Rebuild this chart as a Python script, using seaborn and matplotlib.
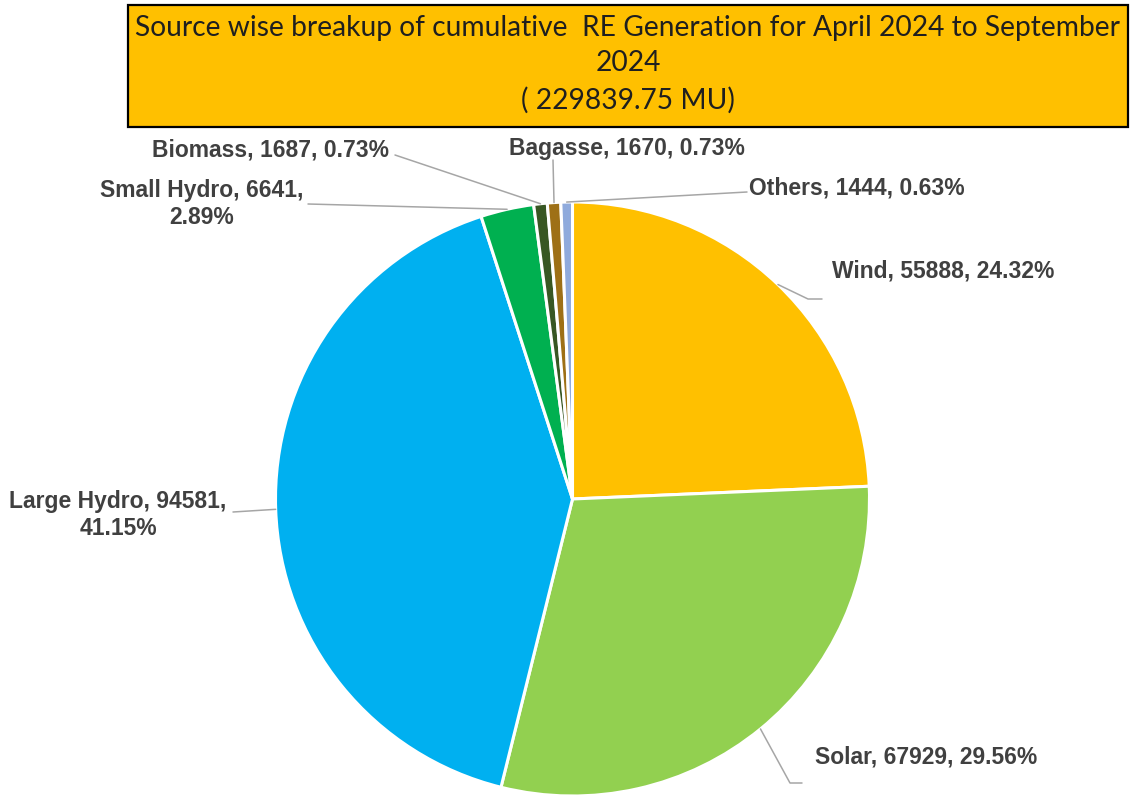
import numpy as np
import matplotlib
matplotlib.use('Agg')
import matplotlib.pyplot as plt
import seaborn as sns
from matplotlib.lines import Line2D
from matplotlib.patches import Rectangle

# Data
sources = ['Wind', 'Solar', 'Large Hydro', 'Small Hydro', 'Biomass', 'Bagasse', 'Others']
generation = [55888, 67929, 94581, 6641, 1687, 1670, 1444]
shares = ['24.32%', '29.56%', '41.15%', '2.89%', '0.73%', '0.73%', '0.63%']
total_mu = '229839.75'
title_lines = ['Source wise breakup of cumulative  RE Generation for April 2024 to September',
               '2024',
               f'( {total_mu} MU)']
colors = ['#FFC000', '#92D050', '#00B0F0', '#00B050', '#385723', '#9E7016', '#8FAADC']

W, H = 1131, 801

# label layout in image pixels (x, y from top): text centre, leader points
label_layout = {
    'Wind':        dict(text=(943, 271), wrap=False, leader=[(808, 299), (822, 299)]),
    'Solar':       dict(text=(926, 757), wrap=False, leader=[(790, 783), (802, 783)]),
    'Large Hydro': dict(text=(118, 515), wrap=True, leader=[(233, 512)]),
    'Small Hydro': dict(text=(202, 204), wrap=True, leader=[(308, 204)]),
    'Biomass':     dict(text=(271, 150), wrap=False, leader=[(395, 155)]),
    'Bagasse':     dict(text=(627, 148), wrap=False, leader=[(553, 160)]),
    'Others':      dict(text=(857, 188), wrap=False, leader=[(747, 192)]),
}


def fig_xy(x, y):
    return x / W, 1 - y / H


sns.set_style('white')
plt.rcParams['font.family'] = ['Liberation Sans', 'DejaVu Sans']

fig = plt.figure(figsize=(W / 100, H / 100), dpi=100)
fig.patch.set_facecolor('white')

# pie axes: centre (572.5, 499), radius 297 px
cx, cy, r = 572.5, 499, 297
ax = fig.add_axes([(cx - r) / W, (H - cy - r) / H, 2 * r / W, 2 * r / H])
wedges, _ = ax.pie(generation, colors=colors, startangle=90, counterclock=False,
                   wedgeprops={'edgecolor': 'white', 'linewidth': 2.2})
ax.set_xlim(-1, 1)
ax.set_ylim(-1, 1)
ax.set_aspect('equal')
ax.axis('off')

line_color = '#A6A6A6'
text_color = '#404040'
for wedge, name, value, share in zip(wedges, sources, generation, shares):
    lay = label_layout[name]
    mid = np.deg2rad((wedge.theta1 + wedge.theta2) / 2)
    edge = ax.transData.transform((np.cos(mid), np.sin(mid)))
    pts = [fig.transFigure.inverted().transform(edge)] + [fig_xy(*p) for p in lay['leader']]
    xs, ys = zip(*pts)
    fig.add_artist(Line2D(xs, ys, color=line_color, lw=1.1, transform=fig.transFigure))
    if lay['wrap']:
        label = f'{name}, {value},\n{share}'
    else:
        label = f'{name}, {value}, {share}'
    tx, ty = fig_xy(*lay['text'])
    fig.text(tx, ty, label, ha='center', va='center', fontsize=16.5, fontweight='bold',
             color=text_color, linespacing=1.2)

# title box
bx0, by0, bx1, by1 = 128, 5, 1128, 127
fig.add_artist(Rectangle(fig_xy(bx0, by1), (bx1 - bx0) / W, (by1 - by0) / H,
                         facecolor='#FFC000', edgecolor='black', lw=1.6,
                         transform=fig.transFigure))

renderer = fig.canvas.get_renderer()
title_size = 20
probe = fig.text(0, 0, title_lines[0], fontsize=title_size, family='Lato')
width = probe.get_window_extent(renderer).width
probe.remove()
title_size = title_size * 985 / width

for line, y in zip(title_lines, [28, 63, 100]):
    fig.text(*fig_xy(628, y), line, ha='center', va='center', fontsize=title_size,
             family='Lato', color='#1f1f1f')

fig.savefig('out.png', dpi=100)
